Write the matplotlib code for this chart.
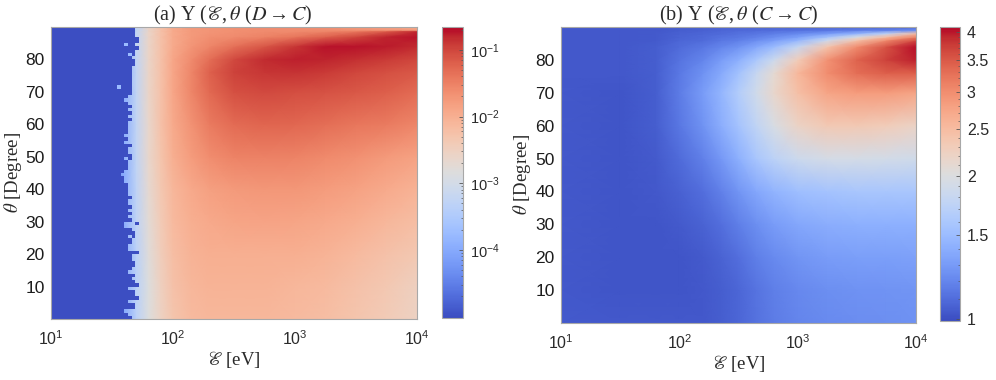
import numpy as np
import matplotlib
matplotlib.use('Agg')
import matplotlib.pyplot as plt
from matplotlib.colors import LogNorm
from matplotlib.ticker import FixedLocator, NullFormatter

plt.rcParams['font.family'] = ['Liberation Sans', 'DejaVu Sans']
plt.rcParams['mathtext.default'] = 'regular'

# ---------- panel (a): log10 of Y ----------
a_logE = [1.0, 1.5, 1.6, 1.7, 1.8, 1.9, 2.0, 2.15, 2.3, 2.5, 2.75, 3.0, 3.25, 3.5, 3.75, 4.0]
a_theta = [0, 10, 20, 30, 40, 50, 60, 70, 76, 80, 84, 87, 88.7, 89.1, 90]
a_logY = [
    [-5, -4.5, -4.0, -3.35, -2.85, -2.55, -2.3, -2.15, -2.1, -2.1, -2.1, -2.15, -2.2, -2.3, -2.4, -2.55],
    [-5, -4.5, -4.0, -3.35, -2.85, -2.5, -2.25, -2.1, -2.05, -2.05, -2.05, -2.1, -2.15, -2.25, -2.35, -2.5],
    [-5, -4.5, -4.0, -3.35, -2.8, -2.45, -2.2, -2.05, -2.0, -2.0, -2.0, -2.0, -2.05, -2.15, -2.25, -2.35],
    [-5, -4.5, -3.95, -3.3, -2.75, -2.4, -2.15, -2.0, -1.92, -1.88, -1.86, -1.87, -1.92, -2.0, -2.1, -2.2],
    [-5, -4.5, -3.95, -3.3, -2.7, -2.35, -2.1, -1.92, -1.82, -1.76, -1.72, -1.72, -1.78, -1.85, -1.95, -2.05],
    [-5, -4.5, -3.95, -3.25, -2.65, -2.3, -2.0, -1.78, -1.62, -1.52, -1.5, -1.52, -1.58, -1.65, -1.75, -1.85],
    [-5, -4.5, -3.95, -3.25, -2.65, -2.25, -1.95, -1.68, -1.45, -1.3, -1.25, -1.27, -1.33, -1.4, -1.45, -1.55],
    [-5, -4.5, -3.95, -3.25, -2.6, -2.25, -1.9, -1.55, -1.28, -1.08, -1.03, -1.05, -1.1, -1.15, -1.2, -1.3],
    [-5, -4.5, -3.95, -3.25, -2.6, -2.25, -1.9, -1.55, -1.22, -0.98, -0.88, -0.87, -0.93, -1.0, -1.07, -1.15],
    [-5, -4.6, -4.0, -3.25, -2.6, -2.25, -1.9, -1.6, -1.33, -1.02, -0.82, -0.76, -0.78, -0.85, -0.92, -1.0],
    [-5, -4.6, -4.0, -3.25, -2.6, -2.25, -1.95, -1.7, -1.55, -1.35, -1.12, -0.88, -0.72, -0.72, -0.75, -0.82],
    [-5, -4.6, -4.0, -3.25, -2.6, -2.25, -1.95, -1.75, -1.65, -1.6, -1.52, -1.4, -1.22, -1.0, -0.78, -0.72],
    [-5, -4.6, -4.0, -3.25, -2.6, -2.25, -1.95, -1.75, -1.7, -1.65, -1.6, -1.6, -1.55, -1.45, -1.2, -0.8],
    [-5, -4.6, -4.0, -3.25, -2.6, -2.25, -1.95, -1.75, -1.7, -1.65, -1.6, -1.6, -1.6, -1.65, -1.7, -1.75],
    [-5, -4.6, -4.0, -3.25, -2.6, -2.25, -1.95, -1.75, -1.7, -1.65, -1.6, -1.6, -1.65, -1.75, -1.85, -2.0],
]
# last empty energy bin of each angle row (bottom row first)
a_edge_bins = [21, 20, 19, 22, 22, 20, 23, 22, 22, 20, 23, 22, 21, 22, 20, 21, 22, 22, 21, 21, 22, 20, 20, 21, 21, 20, 22, 21, 19, 19,
               21, 20, 21, 20, 21, 20, 20, 21, 20, 20, 20, 20, 19, 19, 18, 19, 20, 20, 20, 19, 21, 20, 20, 21, 19, 20, 19, 20, 20, 20,
               20, 21, 20, 21, 20, 21, 20, 19, 20, 21, 21, 21, 21, 21, 21, 21, 21, 21, 22, 22, 21, 22, 22, 23, 22, 23, 23, 22, 22, 22]
a_empty_spots = [(49, 21), (29, 23), (25, 22), (20, 23), (16, 22)]   # (row, bin)
a_pale_spots = [(71, 18), (84, 20), (81, 21)]                        # (row, bin)
a_floor = 1e-5
a_pale = 1.8e-4
a_ticks = [1e-4, 1e-3, 1e-2, 1e-1]
a_ticklabels = ['$10^{-4}$', '$10^{-3}$', '$10^{-2}$', '$10^{-1}$']

# ---------- panel (b): Y ----------
b_logE = [1.0, 1.5, 1.8, 2.0, 2.2, 2.35, 2.5, 2.65, 2.8, 3.0, 3.25, 3.5, 3.75, 4.0]
b_theta = [0, 10, 20, 30, 40, 50, 60, 70, 76, 80, 84, 86, 87, 88, 89, 90]
b_Y = [
    [1.04, 1.03, 1.03, 1.03, 1.03, 1.05, 1.08, 1.12, 1.16, 1.2, 1.22, 1.23, 1.24, 1.25],
    [1.03, 1.02, 1.02, 1.02, 1.03, 1.05, 1.08, 1.13, 1.17, 1.21, 1.24, 1.25, 1.26, 1.27],
    [1.03, 1.02, 1.02, 1.02, 1.04, 1.07, 1.11, 1.17, 1.22, 1.27, 1.3, 1.32, 1.32, 1.33],
    [1.03, 1.02, 1.02, 1.04, 1.07, 1.11, 1.17, 1.24, 1.3, 1.36, 1.4, 1.42, 1.42, 1.42],
    [1.03, 1.02, 1.03, 1.06, 1.11, 1.18, 1.27, 1.36, 1.44, 1.52, 1.56, 1.58, 1.58, 1.58],
    [1.03, 1.02, 1.04, 1.1, 1.18, 1.28, 1.42, 1.58, 1.72, 1.85, 1.92, 1.92, 1.9, 1.88],
    [1.03, 1.02, 1.05, 1.14, 1.26, 1.4, 1.56, 1.75, 1.95, 2.2, 2.35, 2.35, 2.3, 2.2],
    [1.03, 1.02, 1.05, 1.16, 1.3, 1.45, 1.65, 1.88, 2.15, 2.45, 2.75, 2.85, 2.85, 2.75],
    [1.03, 1.03, 1.05, 1.15, 1.25, 1.38, 1.55, 1.8, 2.1, 2.55, 3.0, 3.3, 3.45, 3.45],
    [1.03, 1.03, 1.05, 1.13, 1.2, 1.3, 1.42, 1.6, 1.85, 2.3, 2.95, 3.4, 3.7, 3.95],
    [1.03, 1.03, 1.05, 1.1, 1.14, 1.2, 1.26, 1.36, 1.5, 1.8, 2.4, 3.0, 3.55, 4.05],
    [1.03, 1.03, 1.04, 1.08, 1.1, 1.14, 1.17, 1.23, 1.3, 1.45, 1.85, 2.4, 3.0, 3.6],
    [1.03, 1.03, 1.04, 1.07, 1.09, 1.12, 1.14, 1.18, 1.23, 1.32, 1.55, 1.95, 2.5, 3.1],
    [1.03, 1.03, 1.04, 1.06, 1.08, 1.1, 1.12, 1.14, 1.17, 1.22, 1.3, 1.45, 1.75, 2.5],
    [1.03, 1.03, 1.03, 1.05, 1.06, 1.08, 1.09, 1.1, 1.11, 1.13, 1.15, 1.18, 1.2, 1.25],
    [1.03, 1.03, 1.03, 1.04, 1.05, 1.06, 1.07, 1.07, 1.07, 1.07, 1.07, 1.07, 1.07, 1.07],
]
b_ticks = [1, 1.5, 2, 2.5, 3, 3.5, 4]
b_ticklabels = ['1', '1.5', '2', '2.5', '3', '3.5', '4']
b_minor = [1.1, 1.2, 1.3, 1.4, 1.6, 1.7, 1.8, 1.9, 2.1, 2.2, 2.3, 2.4, 2.6, 2.7, 2.8, 2.9, 3.1, 3.2, 3.3, 3.4, 3.6, 3.7, 3.8, 3.9]

theta_ticks = [10, 20, 30, 40, 50, 60, 70, 80]
energy_ticks = [1e1, 1e2, 1e3, 1e4]
energy_ticklabels = ['$10^{1}$', '$10^{2}$', '$10^{3}$', '$10^{4}$']
title_a = r'(a) Y ($\mathscr{E},\mathit{\theta}$ ($\mathit{D}\rightarrow\mathit{C}$)'
title_b = r'(b) Y ($\mathscr{E},\mathit{\theta}$ ($\mathit{C}\rightarrow\mathit{C}$)'
xlabel = r'$\mathscr{E}$ [eV]'
ylabel = r'$\mathit{\theta}$ [Degree]'

W, H = 996, 380
fig = plt.figure(figsize=(W / 100, H / 100), dpi=100)


def box(x0, y0, x1, y1):
    return [x0 / W, 1 - y1 / H, (x1 - x0) / W, (y1 - y0) / H]


INK = '#2a2a2a'
EDGE = '#a8a8a8'


def style_main(ax, title, tx, ylab_x, xlab_y):
    ax.set_xscale('log')
    ax.set_xlim(10, 1e4)
    ax.set_ylim(0, 90)
    ax.set_xticks(energy_ticks, energy_ticklabels, fontsize=11.5, color=INK)
    ax.xaxis.set_minor_locator(FixedLocator([]))
    ax.set_yticks(theta_ticks, [str(t) for t in theta_ticks], fontsize=12.5, color='#1c1c1c')
    ax.tick_params(axis='x', length=0, pad=7.5)
    ax.tick_params(axis='y', length=0, pad=4.5)
    for s in ax.spines.values():
        s.set_color(EDGE)
        s.set_linewidth(0.8)
    serif = dict(family=['Liberation Serif', 'DejaVu Serif'], math_fontfamily='stix', color=INK)
    pos = ax.get_position()
    fig.text(tx / W, 1 - 15 / H, title, ha='center', va='center', fontsize=14.5, **serif)
    fig.text((pos.x0 + pos.x1) / 2, 1 - xlab_y / H, xlabel, ha='center', va='center', fontsize=13.5, **serif)
    fig.text(ylab_x / W, (pos.y0 + pos.y1) / 2, ylabel,
             rotation=90, ha='center', va='center', fontsize=13.5, **serif)


def style_cbar(cb, size):
    cb.outline.set_edgecolor(EDGE)
    cb.outline.set_linewidth(0.8)
    cb.ax.tick_params(which='major', length=3, width=0.6, direction='in', color='#555555', labelsize=size,
                      labelcolor=INK, pad=5)
    cb.ax.tick_params(which='minor', length=1.5, width=0.5, direction='in', color='#555555')


# panel (a)
ax1 = fig.add_axes(box(51, 27, 417, 319))
norm1 = LogNorm(vmin=0.95e-5, vmax=0.22)
mesh1 = ax1.pcolormesh(10.0 ** np.array(a_logE), a_theta, 10.0 ** np.array(a_logY),
                       cmap='coolwarm', norm=norm1, shading='gouraud', rasterized=True)
E_edges = np.logspace(1, 4, 101)
th_edges = np.linspace(0, 90, 91)
cells = np.full((90, 100), np.nan)
for row, last in enumerate(a_edge_bins):
    cells[row, :last + 1] = a_floor
for row, col in a_empty_spots:
    cells[row, col] = a_floor
for row, col in a_pale_spots:
    cells[row, col] = a_pale
ax1.pcolormesh(E_edges, th_edges, np.ma.masked_invalid(cells), cmap='coolwarm', norm=norm1, shading='flat')
style_main(ax1, title_a, 233, 13, 360)

cax1 = fig.add_axes(box(442, 27, 463, 318))
cb1 = fig.colorbar(mesh1, cax=cax1)
cax1.yaxis.set_major_locator(FixedLocator(a_ticks))
cax1.set_yticklabels(a_ticklabels)
cax1.yaxis.set_minor_locator(matplotlib.ticker.LogLocator(base=10, subs=(2, 3, 4, 5, 6, 7, 8, 9), numticks=20))
cax1.yaxis.set_minor_formatter(NullFormatter())
style_cbar(cb1, 10.5)

# panel (b)
ax2 = fig.add_axes(box(561, 27, 916, 323))
norm2 = LogNorm(vmin=0.99, vmax=4.1)
mesh2 = ax2.pcolormesh(10.0 ** np.array(b_logE), b_theta, np.array(b_Y),
                       cmap='coolwarm', norm=norm2, shading='gouraud', rasterized=True)
style_main(ax2, title_b, 739, 522, 364)

cax2 = fig.add_axes(box(940, 27, 960, 321))
cb2 = fig.colorbar(mesh2, cax=cax2)
cax2.yaxis.set_major_locator(FixedLocator(b_ticks))
cax2.set_yticklabels(b_ticklabels)
cax2.yaxis.set_minor_locator(FixedLocator(b_minor))
cax2.yaxis.set_minor_formatter(NullFormatter())
style_cbar(cb2, 11.5)

fig.savefig('out.png', dpi=100)
